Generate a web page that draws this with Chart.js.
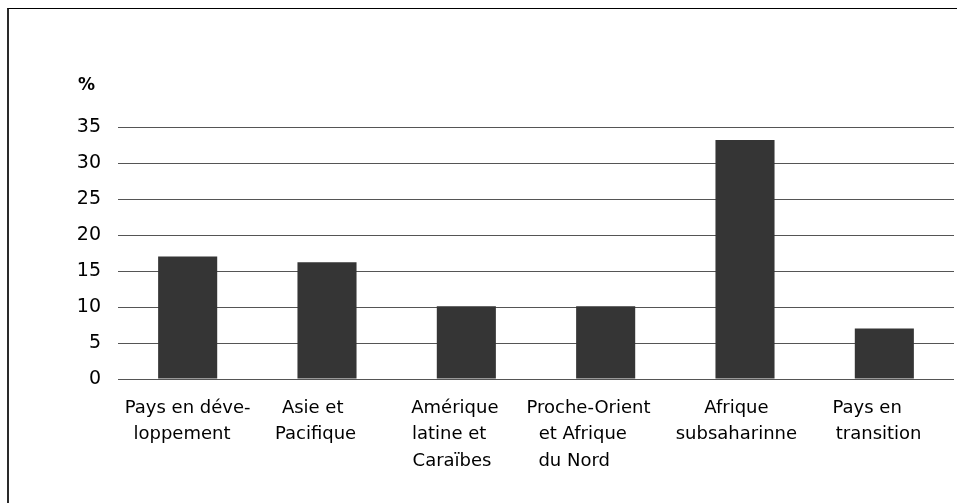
<!DOCTYPE html>
<html>
<head>
<meta charset="utf-8">
<script src="https://cdn.jsdelivr.net/npm/chart.js@4/dist/chart.umd.min.js"></script>
<style>
  html, body { margin: 0; padding: 0; background: #fff; overflow: hidden; }
  #wrap { position: relative; width: 957px; height: 503px; }
  #frame { position: absolute; left: 7px; top: 8px; width: 1200px; height: 800px;
           border-left: 2px solid #2a2a2a; border-top: 1px solid #000; box-sizing: border-box; }
  canvas { position: absolute; left: 0; top: 0; }
</style>
</head>
<body>
<div id="wrap">
  <div id="frame"></div>
  <canvas id="c" width="957" height="503"></canvas>
</div>
<script>
const categories = [
  ["Pays en déve-", "loppement"],
  ["Asie et", "Pacifique"],
  ["Amérique", "latine et", "Caraïbes"],
  ["Proche-Orient", "et Afrique", "du Nord"],
  ["Afrique", "subsaharinne"],
  ["Pays en", "transition"]
];
const values = [17.0, 16.2, 10.1, 10.1, 33.2, 7.0];
const yTicks = [0, 5, 10, 15, 20, 25, 30, 35];
const unitLabel = "%";

// style only: trailing-space nudges so label lines sit like the reference
const labelNudge = [
  [0, 2],
  [5, 4],
  [4, 6, 5],
  [6, 8, 11],
  [3, 3],
  [6, 2]
];

const FONT = "'DejaVu Sans', Verdana, sans-serif";

const unitPlugin = {
  id: 'unitLabel',
  afterDraw(chart) {
    const ctx = chart.ctx;
    ctx.save();
    ctx.font = "bold 17px " + FONT;
    ctx.fillStyle = "#000";
    ctx.textAlign = "left";
    ctx.textBaseline = "alphabetic";
    ctx.fillText(unitLabel, 78, 90);
    ctx.restore();
  }
};

new Chart(document.getElementById('c'), {
  type: 'bar',
  data: {
    labels: categories,
    datasets: [{
      data: values,
      backgroundColor: '#353535',
      borderWidth: 0,
      categoryPercentage: 1,
      barPercentage: 0.424
    }]
  },
  options: {
    responsive: false,
    animation: false,
    events: [],
    layout: { padding: { top: 127, right: 3, left: 0, bottom: 0 } },
    plugins: { legend: { display: false }, tooltip: { enabled: false }, title: { display: false } },
    scales: {
      x: {
        grid: { display: false, drawTicks: false },
        border: { display: false },
        ticks: {
          color: '#000',
          font: { family: FONT, size: 18, lineHeight: 1.47 },
          padding: 16,
          maxRotation: 0,
          autoSkip: false,
          callback(value, index) {
            const lines = categories[index];
            const nudge = labelNudge[index] || [];
            return lines.map((l, i) => l + ' '.repeat(nudge[i] || 0));
          }
        },
        afterFit(scale) { scale.height = 503 - 379; }
      },
      y: {
        min: 0,
        max: 35,
        afterBuildTicks(scale) { scale.ticks = yTicks.map(v => ({ value: v })); },
        grid: { color: '#555', lineWidth: 1, drawTicks: false },
        border: { display: false },
        ticks: {
          color: '#000',
          font: { family: FONT, size: 19 },
          padding: 17
        },
        afterFit(scale) { scale.width = 118; }
      }
    }
  },
  plugins: [unitPlugin]
});
</script>
</body>
</html>
